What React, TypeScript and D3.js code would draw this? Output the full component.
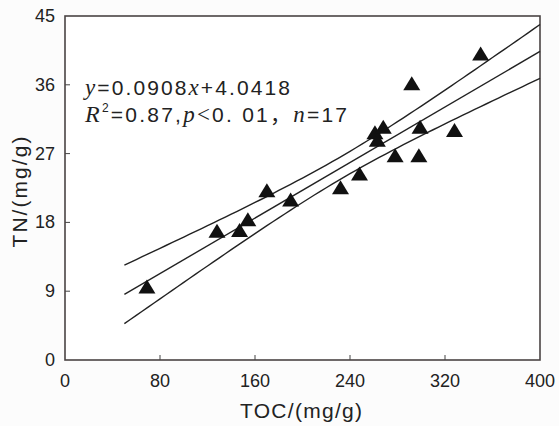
import React from 'react';
import * as d3 from 'd3';

// TOC (mg/g) vs TN (mg/g), 17 samples
const tocValues = [69, 128, 147, 154, 170, 190, 232, 248, 261, 263, 268, 278, 292, 298, 299, 328, 350];
const tnValues = [9.6, 16.9, 17.0, 18.4, 22.2, 21.0, 22.6, 24.4, 29.8, 28.8, 30.5, 26.8, 36.2, 26.8, 30.5, 30.1, 40.1];

const xTicks = [0, 80, 160, 240, 320, 400];
const yTicks = [0, 9, 18, 27, 36, 45];

// published fit
const slope = 0.0908;
const intercept = 4.0418;
const fitRange = [50, 400];
const tCrit = 2.131; // t(0.975, df = 15)

const W = 559;
const H = 426;
const margin = { left: 65, right: 19, top: 16, bottom: 66 };

const App = () => {
  const x = d3.scaleLinear().domain([0, 400]).range([margin.left, W - margin.right]);
  const y = d3.scaleLinear().domain([0, 45]).range([H - margin.bottom, margin.top]);

  // 95% confidence band of the mean
  const n = tocValues.length;
  const xMean = d3.mean(tocValues) as number;
  const sxx = d3.sum(tocValues, (v) => (v - xMean) ** 2);
  const sse = d3.sum(tocValues, (v, i) => (tnValues[i] - (slope * v + intercept)) ** 2);
  const s = Math.sqrt(sse / (n - 2));
  const bandX = d3.range(fitRange[0], fitRange[1] + 0.01, 5);
  const halfWidth = (v: number) => tCrit * s * Math.sqrt(1 / n + (v - xMean) ** 2 / sxx);

  const line = d3
    .line<number[]>()
    .x((d) => x(d[0]))
    .y((d) => y(d[1]));

  const fitLine = line(fitRange.map((v) => [v, slope * v + intercept]));
  const upper = line(bandX.map((v) => [v, slope * v + intercept + halfWidth(v)]));
  const lower = line(bandX.map((v) => [v, slope * v + intercept - halfWidth(v)]));

  const triW = 17;
  const triH = 14;
  const tri = (cx: number, cy: number) =>
    `M${cx},${cy - triH / 2}L${cx + triW / 2},${cy + triH / 2}L${cx - triW / 2},${cy + triH / 2}Z`;

  const sans = "'Liberation Sans', Arial, sans-serif";
  const serif = "'Liberation Serif', 'Times New Roman', serif";
  const ink = '#222';
  const x0 = margin.left;
  const x1 = W - margin.right;
  const y0 = H - margin.bottom;
  const y1 = margin.top;

  return (
    <svg
      width={W}
      height={H}
      style={{ position: 'absolute', left: 0, top: 0, background: '#fcfcfc' }}
    >
      <rect x={x0} y={y1} width={x1 - x0} height={y0 - y1} fill="#fff" />

      {/* ticks, inward */}
      {xTicks.slice(1, -1).map((t) => (
        <line key={'xt' + t} x1={x(t)} x2={x(t)} y1={y0} y2={y0 - 5} stroke="#444" strokeWidth={1} />
      ))}
      {yTicks.slice(1, -1).map((t) => (
        <line key={'yt' + t} x1={x0} x2={x0 + 5} y1={y(t)} y2={y(t)} stroke="#444" strokeWidth={1} />
      ))}

      <rect x={x0} y={y1} width={x1 - x0} height={y0 - y1} fill="none" stroke="#4a4444" strokeWidth={1.6} />

      {xTicks.map((t) => (
        <text key={'xl' + t} x={x(t)} y={387} textAnchor="middle" fontFamily={sans} fontSize={18} fill={ink}>
          {t}
        </text>
      ))}
      {yTicks.map((t) => (
        <text key={'yl' + t} x={55} y={y(t) + 6} textAnchor="end" fontFamily={sans} fontSize={18} fill={ink}>
          {t}
        </text>
      ))}

      <text x={301} y={418} textAnchor="middle" fontFamily={sans} fontSize={21} fill={ink} textLength={122}>
        TOC/(mg/g)
      </text>
      <text
        transform="translate(27,192) rotate(-90)"
        textAnchor="middle"
        fontFamily={sans}
        fontSize={21}
        fill={ink}
        textLength={111}
      >
        TN/(mg/g)
      </text>

      {/* fit and band */}
      <path d={upper || ''} fill="none" stroke={ink} strokeWidth={1.4} />
      <path d={fitLine || ''} fill="none" stroke={ink} strokeWidth={1.4} />
      <path d={lower || ''} fill="none" stroke={ink} strokeWidth={1.4} />

      {tocValues.map((v, i) => (
        <path key={'p' + i} d={tri(x(v), y(tnValues[i]))} fill="#111" />
      ))}

      {/* equation */}
      <text x={85} y={95} fontFamily={sans} fontSize={21} fill={ink} textLength={205} lengthAdjust="spacing">
        <tspan fontFamily={serif} fontStyle="italic" fontSize={23}>y</tspan>
        <tspan>=0.0908</tspan>
        <tspan fontFamily={serif} fontStyle="italic" fontSize={23}>x</tspan>
        <tspan>+4.0418</tspan>
      </text>
      <text x={85} y={122} fontFamily={sans} fontSize={21} fill={ink} textLength={262} lengthAdjust="spacing">
        <tspan fontFamily={serif} fontStyle="italic" fontSize={24}>R</tspan>
        <tspan fontSize={12} dy={-10}>2</tspan>
        <tspan dy={10}>=0.87</tspan>
        <tspan>,</tspan>
        <tspan fontFamily={serif} fontStyle="italic" fontSize={23}>p</tspan>
        <tspan fontFamily={serif} fontSize={23}>&lt;</tspan>
        <tspan>0. 01</tspan>
        <tspan fontFamily="'Noto Sans CJK SC', sans-serif">，</tspan>
        <tspan fontFamily={serif} fontStyle="italic" fontSize={23}>n</tspan>
        <tspan>=17</tspan>
      </text>
    </svg>
  );
};

export default App;
